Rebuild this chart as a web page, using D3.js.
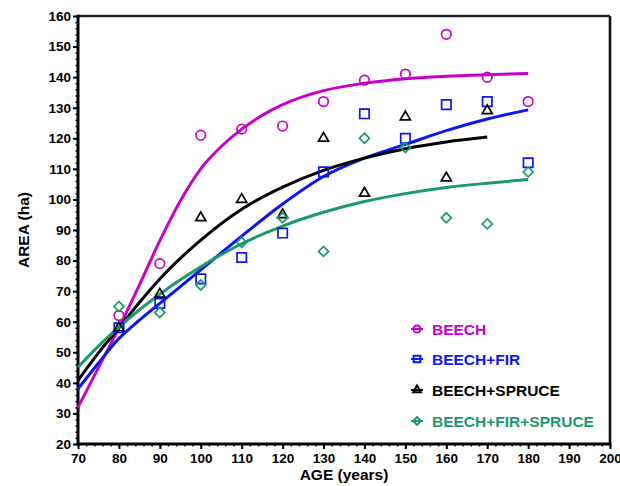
<!DOCTYPE html>
<html><head><meta charset="utf-8">
<script src="https://cdn.jsdelivr.net/npm/d3@7"></script>
<style>
html,body{margin:0;padding:0;background:#fff;}
svg{display:block;font-family:"Liberation Sans",Arial,sans-serif;}
</style></head>
<body><svg id="chart" width="620" height="486"></svg>
<script>
// ---- data ----
const seriesNames = ["BEECH", "BEECH+FIR", "BEECH+SPRUCE", "BEECH+FIR+SPRUCE"];
const ages = [80, 90, 100, 110, 120, 130, 140, 150, 160, 170, 180];
const beech = [62, 79, 121, 123, 124, 132, 139, 141, 154, 140, 132];
const beechFir = [58, 66, 74, 81, 89, 109, 128, 120, 131, 132, 112];
const beechSpruce = [58, 69, 94, 100, 95, 120, 102, 127, 107, 129, null];
const beechFirSpruce = [65, 63, 72, 86, 94, 83, 120, 117, 94, 92, 109];

// fitted curves
const beechFitAges = [70, 75, 80, 85, 90, 95, 100, 105, 110, 115, 120, 130, 140, 150, 160, 170, 180];
const beechFit = [32, 45, 58, 72, 86.5, 99.5, 110, 117.3, 123, 127.5, 131, 135.6, 138, 139.5, 140.3, 140.8, 141.2];
const beechFirFitAges = [70, 75, 80, 85, 90, 95, 100, 110, 120, 130, 140, 150, 160, 170, 180];
const beechFirFit = [38, 46.5, 54.5, 60.5, 66, 71.5, 77, 88, 98.5, 107.5, 113.5, 118, 122.5, 126.3, 129.3];
const beechSpruceFitAges = [70, 75, 80, 85, 90, 95, 100, 110, 120, 130, 140, 150, 160, 170];
const beechSpruceFit = [40.8, 49.8, 58, 66.3, 74, 80.7, 86.7, 96.8, 104, 109.5, 113.5, 116.6, 118.8, 120.4];
const beechFirSpruceFitAges = [70, 75, 80, 85, 90, 95, 100, 110, 120, 130, 140, 150, 160, 170, 180];
const beechFirSpruceFit = [45.1, 52, 58.2, 63.9, 69, 73.7, 78, 85.5, 91.3, 95.8, 99.3, 101.9, 103.9, 105.3, 106.5];

const xTicks = [70, 80, 90, 100, 110, 120, 130, 140, 150, 160, 170, 180, 190, 200];
const yTicks = [20, 30, 40, 50, 60, 70, 80, 90, 100, 110, 120, 130, 140, 150, 160];

// ---- layout ----
const colors = ["#c800c8", "#0a14ff", "#000000", "#1a9a6a"];
const margin = {left: 78, top: 16, right: 10, bottom: 42};
const W = 620, H = 486;
const x = d3.scaleLinear().domain([70, 200]).range([margin.left, W - margin.right]);
const y = d3.scaleLinear().domain([20, 160]).range([H - margin.bottom, margin.top]);

const svg = d3.select("#chart");

// frame: top and right
svg.append("line").attr("x1", x(70)).attr("x2", x(200)).attr("y1", y(160)).attr("y2", y(160))
  .attr("stroke", "#222").attr("stroke-width", 2.6);
svg.append("line").attr("x1", x(200)).attr("x2", x(200)).attr("y1", y(160)).attr("y2", y(20))
  .attr("stroke", "#111").attr("stroke-width", 2.6);

// axes
const minorX = d3.range(70, 201, 2);
const minorY = d3.range(20, 161, 2);
const xAxisMinor = d3.axisBottom(x).tickValues(minorX).tickSize(2.5).tickFormat("");
const yAxisMinor = d3.axisLeft(y).tickValues(minorY).tickSize(2.5).tickFormat("");
const xAxis = d3.axisBottom(x).tickValues(xTicks).tickSize(5).tickPadding(4).tickFormat(d3.format("d"));
const yAxis = d3.axisLeft(y).tickValues(yTicks).tickSize(5).tickPadding(2).tickFormat(d3.format("d"));

function styleAxis(g, w) {
  g.select(".domain").remove();
  g.selectAll(".tick line").attr("stroke", "#000").attr("stroke-width", w);
  g.selectAll(".tick text").attr("fill", "#000").attr("font-size", 13.5).attr("font-weight", "bold")
    .attr("font-family", "'Liberation Sans', Arial, sans-serif");
}
svg.append("g").attr("transform", `translate(0,${y(20)})`).call(xAxisMinor).call(g => styleAxis(g, 1.5));
svg.append("g").attr("transform", `translate(${x(70)},0)`).call(yAxisMinor).call(g => styleAxis(g, 1.5));
svg.append("g").attr("transform", `translate(0,${y(20)})`).call(xAxis).call(g => styleAxis(g, 2));
svg.append("g").attr("transform", `translate(${x(70)},0)`).call(yAxis).call(g => styleAxis(g, 2));

// thick left/bottom axis lines
svg.append("line").attr("x1", x(70)).attr("x2", x(70)).attr("y1", y(160) - 1.3).attr("y2", y(20) + 1.5)
  .attr("stroke", "#000").attr("stroke-width", 3);
svg.append("line").attr("x1", x(70) - 1.5).attr("x2", x(200) + 1.3).attr("y1", y(20)).attr("y2", y(20))
  .attr("stroke", "#000").attr("stroke-width", 3);

// axis titles
svg.append("text").attr("x", (x(70) + x(200)) / 2).attr("y", 480).attr("text-anchor", "middle")
  .attr("font-size", 15.5).attr("font-weight", "bold").attr("fill", "#000").text("AGE (years)");
svg.append("text").attr("transform", `translate(28.5,${(y(20) + y(160)) / 2}) rotate(-90)`)
  .attr("text-anchor", "middle").attr("font-size", 15.5).attr("font-weight", "bold").attr("fill", "#000")
  .text("AREA (ha)");

// fitted curves
const fits = [
  [beechFitAges, beechFit],
  [beechFirFitAges, beechFirFit],
  [beechSpruceFitAges, beechSpruceFit],
  [beechFirSpruceFitAges, beechFirSpruceFit]
];
const line = d3.line().x(d => x(d[0])).y(d => y(d[1])).curve(d3.curveMonotoneX);
fits.forEach((f, i) => {
  const pts = f[0].map((a, j) => [a, f[1][j]]);
  svg.append("path").attr("d", line(pts)).attr("fill", "none")
    .attr("stroke", colors[i]).attr("stroke-width", 3);
});

// markers
const symbols = [
  {type: d3.symbolCircle, size: 72, rot: 0},
  {type: d3.symbolSquare, size: 88, rot: 0},
  {type: d3.symbolTriangle, size: 44, rot: 0},
  {type: d3.symbolSquare, size: 50, rot: 45}
];
const allSeries = [beech, beechFir, beechSpruce, beechFirSpruce];
allSeries.forEach((vals, i) => {
  const s = symbols[i];
  const pts = ages.map((a, j) => [a, vals[j]]).filter(d => d[1] != null);
  svg.append("g").selectAll("path").data(pts).join("path")
    .attr("d", d3.symbol().type(s.type).size(s.size)())
    .attr("transform", d => `translate(${x(d[0])},${y(d[1])}) rotate(${s.rot})`)
    .attr("fill", "none").attr("stroke", colors[i]).attr("stroke-width", 1.7);
});

// legend
const legendY = [329, 359, 390, 421];
const legendSymSize = [40, 45, 26, 30];
seriesNames.forEach((name, i) => {
  const g = svg.append("g").attr("transform", `translate(417,${legendY[i]})`);
  g.append("line").attr("x1", -6).attr("x2", 6).attr("stroke", colors[i]).attr("stroke-width", 2);
  g.append("path").attr("d", d3.symbol().type(symbols[i].type).size(legendSymSize[i])())
    .attr("transform", `rotate(${symbols[i].rot})`)
    .attr("fill", "none").attr("stroke", colors[i]).attr("stroke-width", 2);
  g.append("text").attr("x", 15).attr("y", 5.5).attr("font-size", 15.5).attr("font-weight", "bold")
    .attr("fill", colors[i]).text(name);
});
</script></body></html>
